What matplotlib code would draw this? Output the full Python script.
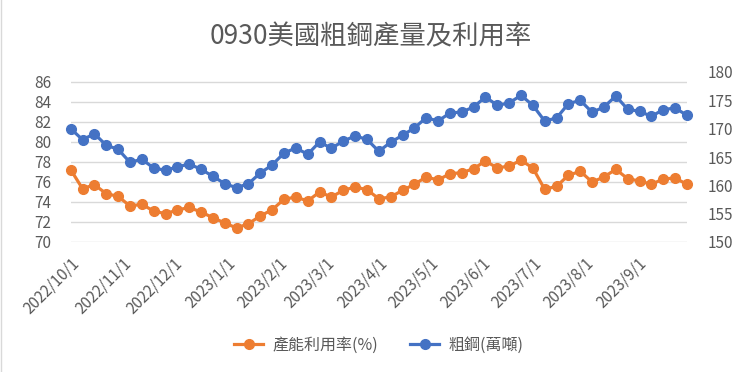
import matplotlib
matplotlib.use("Agg")
import matplotlib.pyplot as plt
from matplotlib.lines import Line2D
import pandas as pd

plt.rcParams['font.family'] = ['Noto Sans CJK TC', 'DejaVu Sans']

# ---- data ----
dates = pd.date_range('2022-10-01', periods=53, freq='7D')
utilization = [77.23, 75.33, 75.73, 74.83, 74.57, 73.6, 73.77, 73.1, 72.83, 73.2,
               73.45, 73.0, 72.43, 71.9, 71.4, 71.83, 72.6, 73.23, 74.27, 74.5,
               74.1, 75.0, 74.5, 75.17, 75.5, 75.23, 74.33, 74.5, 75.17, 75.77,
               76.5, 76.2, 76.83, 76.93, 77.33, 78.1, 77.4, 77.6, 78.17, 77.4,
               75.27, 75.57, 76.67, 77.07, 76.0, 76.5, 77.27, 76.33, 76.1, 75.77,
               76.3, 76.4, 75.77]
crude_steel = [170.0, 168.05, 169.1, 167.07, 166.36, 164.06, 164.6, 163.06, 162.65, 163.24,
               163.76, 162.83, 161.6, 160.29, 159.58, 160.29, 162.18, 163.59, 165.7, 166.59,
               165.48, 167.65, 166.54, 167.82, 168.7, 168.12, 166.0, 167.6, 168.83, 170.12,
               171.94, 171.35, 172.76, 172.94, 173.82, 175.59, 174.12, 174.53, 175.89, 174.12,
               171.35, 171.88, 174.41, 175.0, 172.89, 173.82, 175.76, 173.42, 173.06, 172.18,
               173.35, 173.65, 172.36]
month_ticks = pd.date_range('2022-10-01', '2023-09-01', freq='MS')
left_ticks = list(range(70, 87, 2))
right_ticks = list(range(150, 181, 5))
title = '0930美國粗鋼產量及利用率'
label_util = '產能利用率(%)'
label_steel = '粗鋼(萬噸)'

ORANGE = '#ED7D31'
BLUE = '#4472C4'
TXT = '#595959'
GRID = '#D9D9D9'

fig = plt.figure(figsize=(7.42, 3.72), dpi=100)
ax = fig.add_axes([70.7/742, 1-242/372, (686.9-70.7)/742, 170/372])
ax2 = ax.twinx()

ax.plot(dates, utilization, color=ORANGE, lw=2.3, marker='o', ms=7,
        markerfacecolor=ORANGE, markeredgecolor=ORANGE, solid_joinstyle='round',
        clip_on=False)
ax2.plot(dates, crude_steel, color=BLUE, lw=2.3, marker='o', ms=7,
         markerfacecolor=BLUE, markeredgecolor=BLUE, solid_joinstyle='round',
         clip_on=False)

ax.set_ylim(70, 87)
ax.set_yticks(left_ticks)
ax2.set_ylim(150, 180)
ax2.set_yticks(right_ticks)
ax.set_xlim(dates[0], dates[-1])
ax.set_xticks(month_ticks)
ax.set_xticklabels([f'{d.year}/{d.month}/{d.day}' for d in month_ticks],
                   rotation=45, ha='right', va='top', rotation_mode='anchor')

ax.grid(axis='y', color=GRID, lw=1)
ax.set_axisbelow(True)
for a in (ax, ax2):
    for s in a.spines.values():
        s.set_visible(False)
    a.tick_params(length=0, colors=TXT, labelsize=11)
ax.tick_params(axis='y', pad=14)
ax2.tick_params(axis='y', pad=15)
ax.tick_params(axis='x', pad=9)

fig.text(0.5, 1-37/372, title, ha='center', va='center', fontsize=19, color=TXT)

handles = [Line2D([], [], color=ORANGE, lw=2.3, marker='o', ms=7),
           Line2D([], [], color=BLUE, lw=2.3, marker='o', ms=7)]
fig.legend(handles, [label_util, label_steel], loc='center',
           bbox_to_anchor=(379/742, 1-345/372), ncol=2, frameon=False,
           fontsize=11.5, labelcolor=TXT, handlelength=1.8, columnspacing=2.0,
           handletextpad=0.6)

fig.add_artist(Line2D([0.5/742, 0.5/742], [0, 1], color=GRID, lw=1, transform=fig.transFigure))

fig.savefig('out.png', dpi=100, facecolor='white')
